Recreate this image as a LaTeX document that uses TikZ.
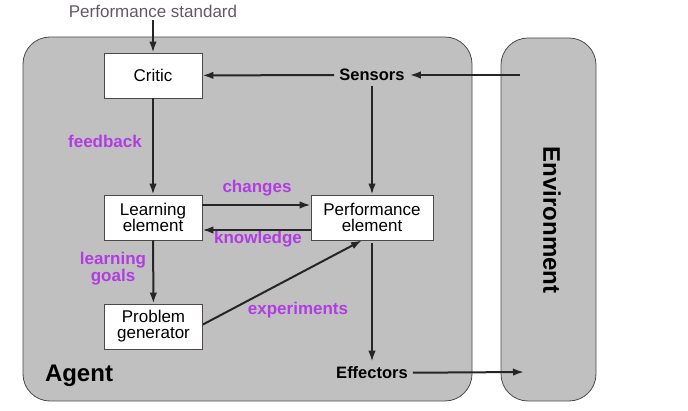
\documentclass[tikz,border=0pt]{standalone}
\usepackage{fontspec}
\setmainfont{Liberation Sans}
\usetikzlibrary{arrows.meta}
\definecolor{agentgray}{RGB}{192,192,192}
\definecolor{edgegray}{RGB}{80,72,72}
\definecolor{labelpurple}{RGB}{178,60,228}
\definecolor{stdgray}{RGB}{100,88,100}
\begin{document}
\begin{tikzpicture}[
  x=1pt, y=-1pt,
  box/.style={draw=edgegray, fill=white, line width=0.8pt, minimum width=98pt, minimum height=45pt,
    align=center, font=\fontsize{17}{16}\selectfont},
  purple_label/.style={text=labelpurple, font=\fontsize{17}{17}\selectfont\bfseries, align=center, inner sep=0pt},
  part_label/.style={font=\fontsize{16.5}{17}\selectfont\bfseries, inner sep=5pt},
  big_label/.style={font=\fontsize{24}{24}\selectfont\bfseries},
  arr/.style={-{Latex[length=11pt,width=7.5pt]}, line width=2pt, black!85},
  shell/.style={draw=edgegray, fill=agentgray, line width=0.8pt, rounded corners=27pt}
  ]
	\useasboundingbox (0,0) rectangle (688,411);

	\draw[shell] (23,37) rectangle (472,401);
	\draw[shell] (501,38) rectangle (596,401);

	\node[big_label] (agent) at (79,376) {Agent};
	\node[big_label, rotate=-90] (environment) at (552,220) {Environment};

	\node[text=stdgray, font=\fontsize{17}{17}\selectfont, inner sep=3pt] (standard) at (153,11) {Performance standard};

	\node[box] (critic) at (153,75.5) {Critic};
	\node[box] (learn) at (153,217.5) {Learning\\element};
	\node[box, minimum width=122pt] (perf) at (372,217.5) {Performance\\element};
	\node[box] (problem) at (153.5,326.5) {Problem\\generator};

	\node[part_label] (sensors) at (372,75) {Sensors};
	\node[part_label] (effectors) at (372,373) {Effectors};

	\coordinate (envin) at (520,75);
	\coordinate (envout) at (524,372);

	\node[purple_label] (feedback) at (105,141) {feedback};
	\node[purple_label] (changes) at (257,188) {changes};
	\node[purple_label] (knowledge) at (258,239) {knowledge};
	\node[purple_label] (goals) at (113,268.5) {learning\\goals};
	\node[purple_label] (experiments) at (298,310) {experiments};

	\draw[arr] (standard) -- (critic);
	\draw[arr] (envin) -- (sensors);
	\draw[arr] (sensors) -- (critic);
	\draw[arr] (sensors) -- (perf);
	\draw[arr] (critic) -- (learn);
	\draw[arr] ([yshift=12.5pt]learn.east) -- ([yshift=12.5pt]perf.west);
	\draw[arr] ([yshift=-12.5pt]perf.west) -- ([yshift=-12.5pt]learn.east);
	\draw[arr] (learn) -- (problem);
	\draw[arr] ([yshift=2pt]problem.east) -- ([xshift=-10pt]perf.south);
	\draw[arr] ([yshift=-3pt]perf.south) -- (effectors);
	\draw[arr] (effectors) -- (envout);
\end{tikzpicture}
\end{document}
